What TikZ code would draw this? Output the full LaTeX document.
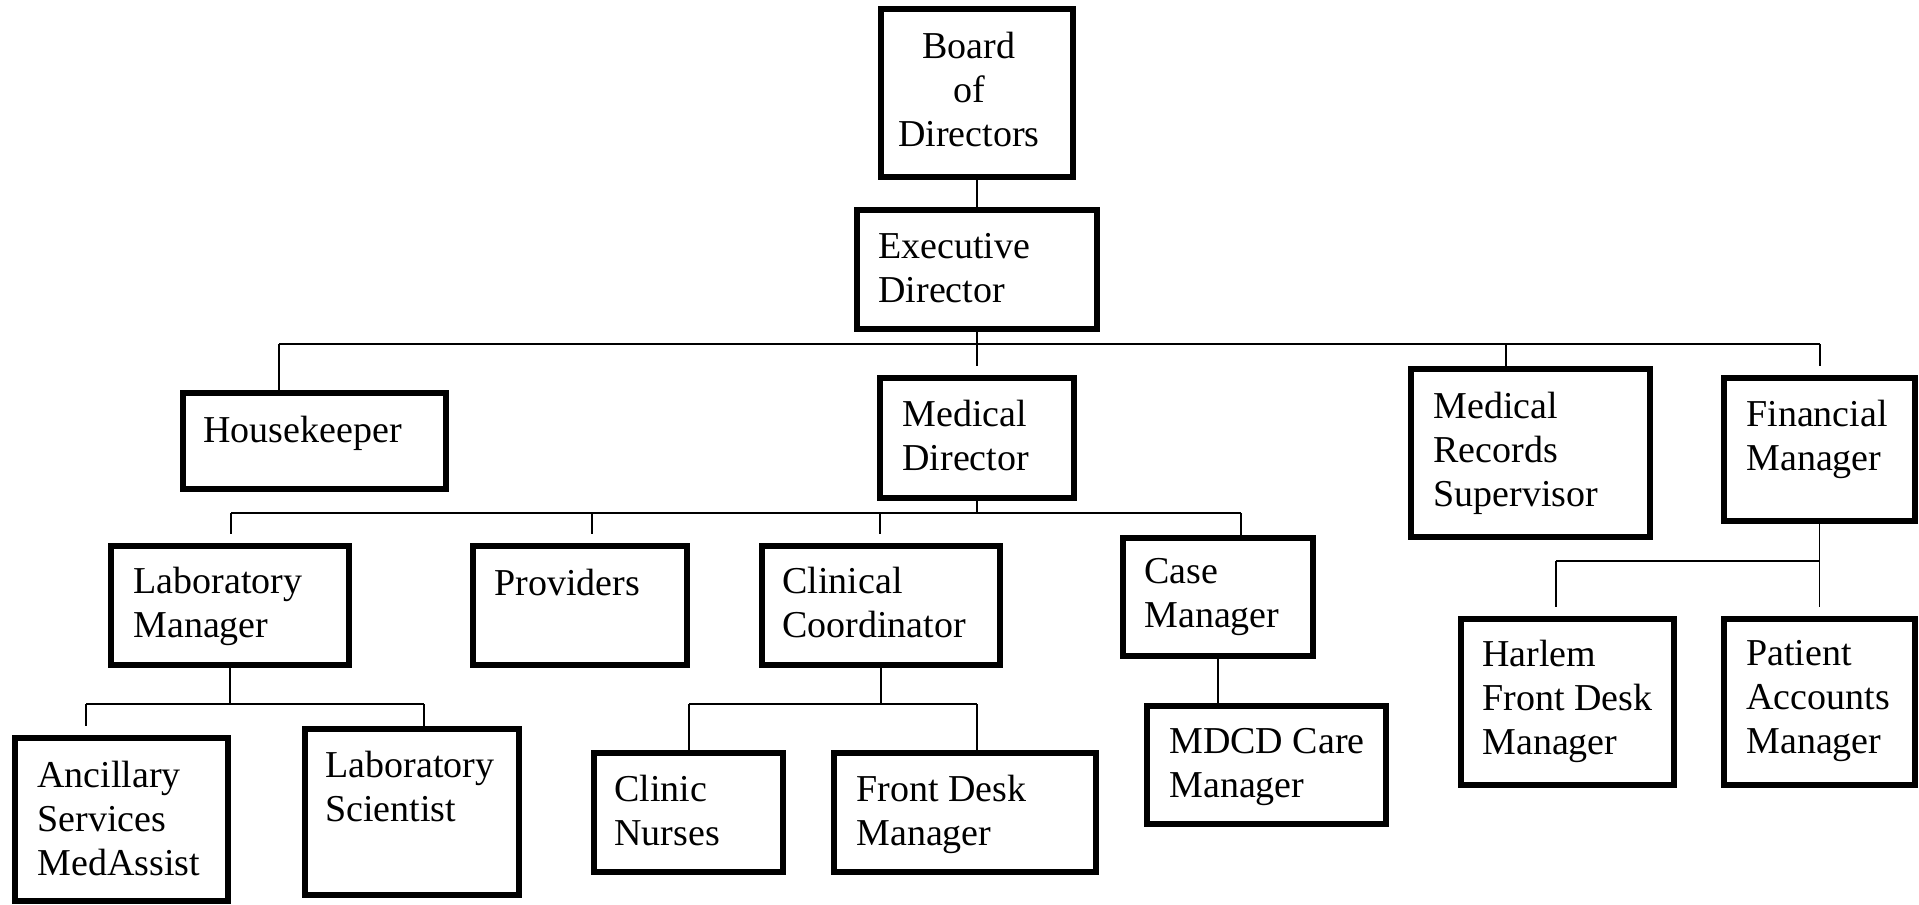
\documentclass[tikz,border=0pt]{standalone}
\usepackage{fontspec}
\setmainfont{Liberation Serif}
\usetikzlibrary{fit}
\newcommand\mkbox[5]{\node[box, fit={(#2+3,#3+3) (#4-3,#5-3)}] (#1) {};}
\begin{document}
\begin{tikzpicture}[x=0.5pt,y=-0.5pt,
  box/.style={draw, line width=3pt, rectangle, inner sep=0pt},
  txt/.style={font=\fontsize{19pt}{22pt}\selectfont, inner sep=0pt, align=left, anchor=north west},
  conn/.style={line width=0.8pt},
  gap/.style={conn, shorten >=4.5pt}]
\useasboundingbox[fill=white] (0,0) rectangle (1919,905);
% boxes
\mkbox{board}{878}{6}{1076}{180}
\mkbox{exec}{854}{207}{1100}{332}
\mkbox{hk}{180}{390}{449}{492}
\mkbox{md}{877}{375}{1077}{501}
\mkbox{mrs}{1408}{366}{1653}{540}
\mkbox{fin}{1721}{375}{1918}{524}
\mkbox{lab}{108}{543}{352}{668}
\mkbox{prov}{470}{543}{690}{668}
\mkbox{clin}{759}{543}{1003}{668}
\mkbox{case}{1120}{535}{1316}{659}
\mkbox{harl}{1458}{616}{1677}{788}
\mkbox{pat}{1721}{616}{1918}{788}
\mkbox{anc}{12}{735}{231}{904}
\mkbox{labs}{302}{726}{522}{898}
\mkbox{nurse}{591}{750}{786}{875}
\mkbox{fdm}{831}{750}{1099}{875}
\mkbox{mdcd}{1144}{703}{1389}{827}
% junction coordinates
\coordinate (b1l) at (279,344);
\coordinate (b1m) at (1506,344);
\coordinate (b1r) at (1820,344);
\coordinate (b2l) at (231,513);
\coordinate (b2a) at (592,513);
\coordinate (b2b) at (880,513);
\coordinate (b2r) at (1241,513);
\coordinate (b3l) at (86,704);
\coordinate (b3r) at (424,704);
\coordinate (b4l) at (689,704);
\coordinate (b4r) at (977,704);
\coordinate (b5l) at (1556,561);
\coordinate (b5r) at (1820,561);
% connectors
\draw[conn] (board.south) -- (exec.north);
\draw[gap] (exec.south) -- (md.north);
\draw[conn] (b1l) -- (b1r);
\draw[conn] (b1l) -- (b1l |- hk.north);
\draw[conn] (b1m) -- (b1m |- mrs.north);
\draw[gap] (b1r) -- (b1r |- fin.north);
\draw[conn] (md.south) -- (md.south |- b2l);
\draw[conn] (b2l) -- (b2r);
\draw[gap] (b2l) -- (b2l |- lab.north);
\draw[gap] (b2a) -- (b2a |- prov.north);
\draw[gap] (b2b) -- (b2b |- clin.north);
\draw[conn] (b2r) -- (b2r |- case.north);
\draw[conn] (lab.south) -- (lab.south |- b3l);
\draw[conn] (b3l) -- (b3r);
\draw[gap] (b3l) -- (b3l |- anc.north);
\draw[conn] (b3r) -- (b3r |- labs.north);
\draw[conn] (clin.south) -- (clin.south |- b4l);
\draw[conn] (b4l) -- (b4r);
\draw[conn] (b4l) -- (b4l |- nurse.north);
\draw[conn] (b4r) -- (b4r |- fdm.north);
\draw[conn] (case.south) -- (case.south |- mdcd.north);
\draw[gap] (fin.south) -- (fin.south |- pat.north);
\draw[conn] (b5l) -- (b5r);
\draw[gap] (b5l) -- (b5l |- harl.north);
% texts
\node[txt, anchor=north, align=center] (tboard) at (969,32) {Board\\of\\Directors};
\node[txt] (texec) at (878,233) {Executive\\Director};
\node[txt] (thk) at (203,416) {Housekeeper};
\node[txt] (tmd) at (902,400) {Medical\\Director};
\node[txt] (tmrs) at (1433,392) {Medical\\Records\\Supervisor};
\node[txt] (tfin) at (1746,400) {Financial\\Manager};
\node[txt] (tlab) at (133,567) {Laboratory\\Manager};
\node[txt] (tprov) at (494,569) {Providers};
\node[txt] (tclin) at (782,567) {Clinical\\Coordinator};
\node[txt] (tcase) at (1144,558) {Case\\Manager};
\node[txt] (tharl) at (1482,640) {Harlem\\Front Desk\\Manager};
\node[txt] (tpat) at (1746,640) {Patient\\Accounts\\Manager};
\node[txt] (tanc) at (37,761) {Ancillary\\Services\\MedAssist};
\node[txt] (tlabs) at (325,751) {Laboratory\\Scientist};
\node[txt] (tnurse) at (614,775) {Clinic\\Nurses};
\node[txt] (tfdm) at (856,775) {Front Desk\\Manager};
\node[txt] (tmdcd) at (1169,728) {MDCD Care\\Manager};
\end{tikzpicture}
\end{document}
